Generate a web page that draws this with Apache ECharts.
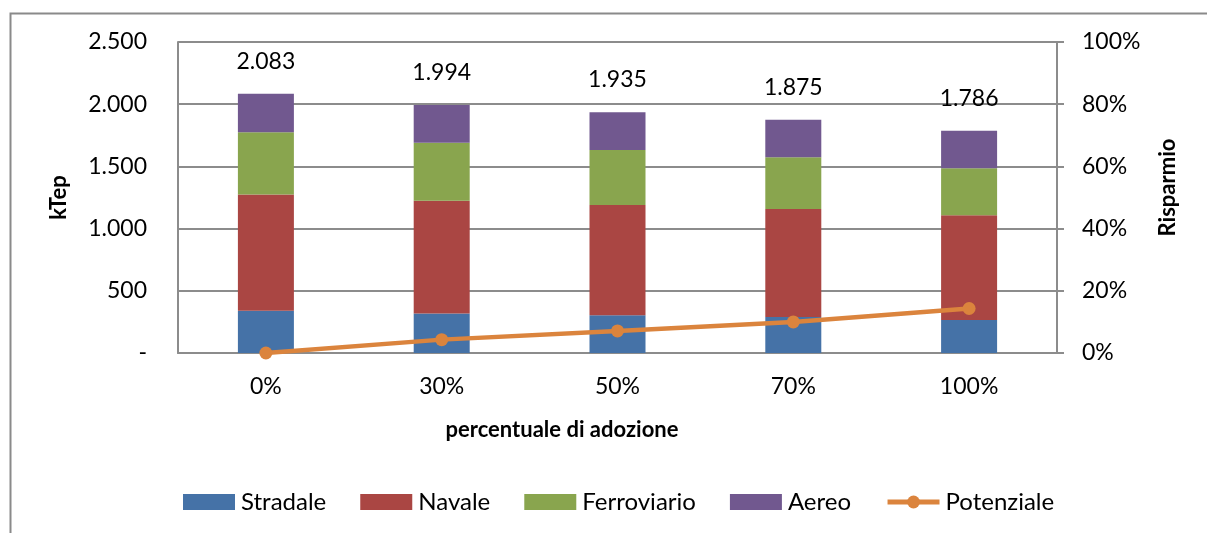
<!DOCTYPE html>
<html>
<head>
<meta charset="utf-8">
<script src="https://cdn.jsdelivr.net/npm/echarts@6/dist/echarts.min.js"></script>
<style>
  html, body { margin: 0; padding: 0; background: #fff; }
  #chart { width: 1207px; height: 533px; }
</style>
</head>
<body>
<div id="chart"></div>
<script>
// categories: percentuale di adozione
const categories = ['0%', '30%', '50%', '70%', '100%'];

// kTep per mode
const stradale = [340, 317, 303, 290, 266];
const navale = [935, 906, 887, 868, 841];
const ferroviario = [500, 467, 442, 415, 379];
const aereo = [308, 304, 303, 302, 300];

// totals shown above bars
const totals = [2083, 1994, 1935, 1875, 1786];

// risparmio (%)
const potenziale = [0, 4.3, 7.1, 10.0, 14.3];

const FONT = 'Lato';
const GRAY = '#8c8c8c';
const ORANGE = '#DB843D';

function thousands(v) {
    if (v === 0) return '-';
    return String(v).replace(/\B(?=(\d{3})+(?!\d))/g, '.');
}

const chart = echarts.init(document.getElementById('chart'));

const barSeries = (name, data, color) => ({
    name: name,
    type: 'bar',
    stack: 'tot',
    barWidth: 56,
    data: data,
    itemStyle: { color: color },
    emphasis: { disabled: true }
});

let option = {
    animation: false,
    backgroundColor: '#fff',
    textStyle: { fontFamily: FONT, color: '#000' },
    graphic: [{
        type: 'rect',
        left: 8,
        top: 11,
        shape: { width: 1400, height: 700 },
        style: { fill: 'none', stroke: '#8a8a8a', lineWidth: 2 },
        silent: true
    }],
    grid: {
        left: 178,
        right: 150,
        top: 42,
        bottom: 180
    },
    legend: {
        left: 178,
        top: 485,
        itemWidth: 52,
        itemHeight: 16,
        itemGap: 34,
        textStyle: { fontFamily: FONT, fontSize: 24, color: '#000', padding: [0, 0, 0, 1] },
        data: [
            { name: 'Stradale', icon: 'rect' },
            { name: 'Navale', icon: 'rect' },
            { name: 'Ferroviario', icon: 'rect' },
            { name: 'Aereo', icon: 'rect' },
            { name: 'Potenziale', lineStyle: { width: 5, color: ORANGE } }
        ]
    },
    xAxis: {
        type: 'category',
        data: categories,
        axisLine: { lineStyle: { color: GRAY, width: 2 } },
        axisTick: { show: false },
        axisLabel: { fontFamily: FONT, fontSize: 23, color: '#000', margin: 22 },
        name: 'percentuale di adozione',
        nameLocation: 'middle',
        nameGap: 66,
        nameTextStyle: {
            fontFamily: FONT, fontSize: 22, fontWeight: 'bold', color: '#000',
            padding: [0, 111, 0, 0]
        }
    },
    yAxis: [{
        type: 'value',
        min: 0,
        max: 2500,
        interval: 500,
        axisLine: { show: true, lineStyle: { color: GRAY, width: 2 } },
        axisTick: { show: false },
        splitLine: { lineStyle: { color: GRAY, width: 2 } },
        axisLabel: {
            fontFamily: FONT, fontSize: 23, color: '#000', margin: 31,
            formatter: thousands
        },
        name: 'kTep',
        nameLocation: 'middle',
        nameRotate: 90,
        nameGap: 108,
        nameTextStyle: { fontFamily: FONT, fontSize: 22, fontWeight: 'bold', color: '#000' }
    }, {
        type: 'value',
        position: 'right',
        min: 0,
        max: 100,
        interval: 20,
        axisLine: { show: true, lineStyle: { color: GRAY, width: 2 } },
        axisTick: { show: true, length: 7, lineStyle: { color: GRAY, width: 2 } },
        splitLine: { show: false },
        axisLabel: {
            fontFamily: FONT, fontSize: 23, color: '#000', margin: 25,
            formatter: '{value}%'
        },
        name: 'Risparmio',
        nameLocation: 'middle',
        nameRotate: 90,
        nameGap: 100,
        nameTextStyle: {
            fontFamily: FONT, fontSize: 22, fontWeight: 'bold', color: '#000',
            padding: [0, 0, 0, 20]
        }
    }],
    series: [
        barSeries('Stradale', stradale, '#4572A7'),
        barSeries('Navale', navale, '#AA4643'),
        barSeries('Ferroviario', ferroviario, '#89A54E'),
        Object.assign(barSeries('Aereo', aereo, '#71588F'), {
            label: {
                show: true,
                position: 'top',
                distance: 21,
                fontFamily: FONT,
                fontSize: 23,
                color: '#000',
                formatter: p => thousands(totals[p.dataIndex])
            }
        }),
        {
            name: 'Potenziale',
            type: 'line',
            yAxisIndex: 1,
            data: potenziale,
            symbol: 'circle',
            symbolSize: 13,
            lineStyle: { color: ORANGE, width: 4.5 },
            itemStyle: { color: ORANGE },
            z: 5,
            emphasis: { disabled: true }
        }
    ]
};

chart.setOption(option);
</script>
</body>
</html>
